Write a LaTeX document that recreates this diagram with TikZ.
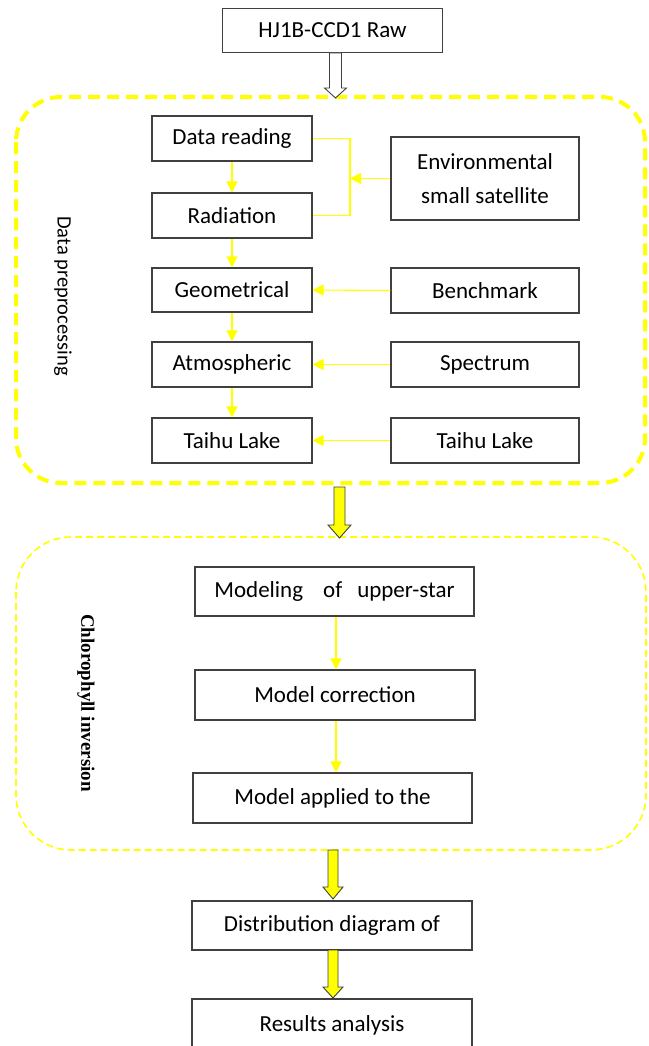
\documentclass[tikz,border=0pt]{standalone}
\usepackage{fontspec}
\setmainfont{Carlito}
\newfontfamily\serifbold{Liberation Serif}
\usetikzlibrary{arrows.meta,calc}
\definecolor{ylw}{RGB}{255,255,0}
\definecolor{edge}{RGB}{64,64,64}
\newcommand{\fatarrow}[7]{% fill, cx, top, headstart, tip, halfshaft, halfhead
  \draw[draw=edge,line width=0.9pt,fill=#1,line join=miter]
    (#2-#6,#3) -- (#2+#6,#3) -- (#2+#6,#4) -- (#2+#7,#4) -- (#2,#5)
    -- (#2-#7,#4) -- (#2-#6,#4) -- cycle;}
\begin{document}
\begin{tikzpicture}[x=1pt,y=-1pt,
  box/.style={draw=edge,line width=1.1pt,fill=white,inner sep=0pt,
    font=\fontsize{23}{27}\selectfont},
  yarrow/.style={draw=ylw,line width=1.1pt,-{Triangle[length=11pt,width=11pt]}},
  yline/.style={draw=ylw,line width=1.1pt},
  bigdash/.style={draw=ylw,line width=4pt,dash pattern=on 12pt off 7pt,rounded corners=45pt},
  thindash/.style={draw=ylw,line width=1.6pt,dash pattern=on 7pt off 4pt,rounded corners=55pt}]
\useasboundingbox (0,0) rectangle (648,1046);

% group frames
\draw[bigdash] (16,97) rectangle (645,483);
\draw[thindash] (16,537) rectangle (646,850);

% top
\node[box,minimum width=220pt,minimum height=44pt] (raw) at (332.5,30.5) {HJ1B-CCD1 Raw};
\fatarrow{white}{335.5}{53}{88}{98}{6}{11}

% preprocessing column
\node[box,minimum width=160pt,minimum height=45pt] (dr) at (232,138.5) {Data reading};
\node[box,minimum width=160pt,minimum height=45pt] (rad) at (232,215.5) {Radiation};
\node[box,minimum width=160pt,minimum height=44pt] (geo) at (232,290) {Geometrical};
\node[box,minimum width=160pt,minimum height=45pt] (atm) at (232,364.5) {Atmospheric};
\node[box,minimum width=160pt,minimum height=45pt] (tl) at (232,440.5) {Taihu Lake};

\node[box,minimum width=188pt,minimum height=83pt,align=center,
  font=\fontsize{23}{34}\selectfont] (env) at (485,178.5) {Environmental\\small satellite};
\node[box,minimum width=188pt,minimum height=45pt] (bm) at (485,290.5) {Benchmark};
\node[box,minimum width=188pt,minimum height=45pt] (sp) at (485,364.5) {Spectrum};
\node[box,minimum width=188pt,minimum height=45pt] (tl2) at (485,440.5) {Taihu Lake};

\coordinate (br) at (350,178.5);
\draw[yline] (dr.east) -| (br) |- (rad.east);
\draw[yarrow] (env.west) -- (br);
\draw[yarrow] (bm.west) -- (geo.east);
\draw[yarrow] (sp.west) -- (atm.east);
\draw[yarrow] (tl2.west) -- (tl.east);
\draw[yarrow] (dr.south) -- (rad.north);
\draw[yarrow] (rad.south) -- (geo.north);
\draw[yarrow] (geo.south) -- (atm.north);
\draw[yarrow] (atm.south) -- (tl.north);

\node[rotate=-90,font=\fontsize{20.5}{24}\selectfont] (lab1) at (63,296) {Data preprocessing};

% between groups
\fatarrow{ylw}{339.5}{487}{525}{538}{5.5}{11.5}

% chlorophyll group
\node[box,minimum width=279pt,minimum height=49pt] (mod) at (334.5,591.5)
  {Modeling\hspace{20pt}of\hspace{15pt}upper-star};
\node[box,minimum width=280pt,minimum height=50pt] (mc) at (335,695) {Model correction};
\node[box,minimum width=279pt,minimum height=50pt] (ma) at (332.5,798) {Model applied to the};
\draw[yarrow] (mod.south -| 336,0) -- (mc.north -| 336,0);
\draw[yarrow] (mc.south -| 336,0) -- (ma.north -| 336,0);

\node[rotate=-90,font=\serifbold\bfseries\fontsize{19}{22}\selectfont] (lab2) at (86,703) {Chlorophyll inversion};

% bottom
\fatarrow{ylw}{333}{850}{887}{899}{5}{10}
\node[box,minimum width=280pt,minimum height=49pt] (dist) at (332,925.5) {Distribution diagram of};
\fatarrow{ylw}{333}{950}{987}{998}{5}{10}
\node[box,minimum width=280pt,minimum height=52pt] (res) at (332,1025) {Results analysis};
\end{tikzpicture}
\end{document}
